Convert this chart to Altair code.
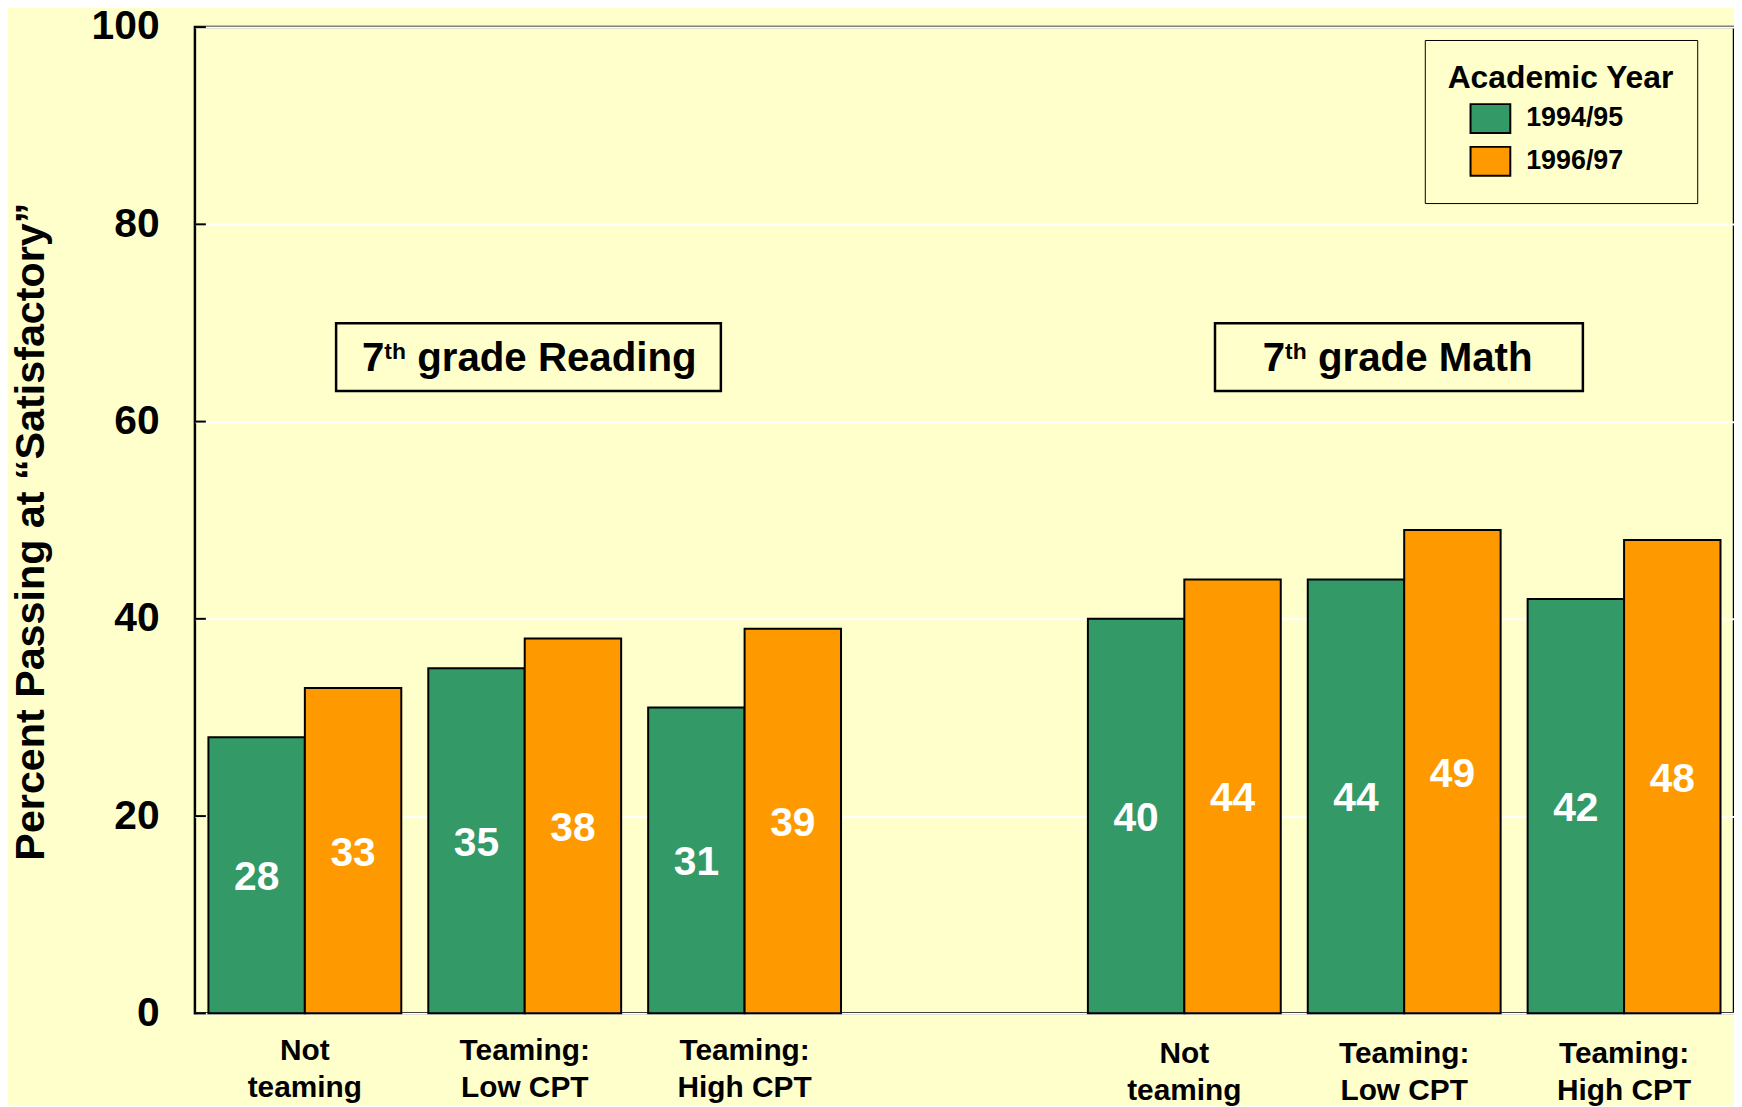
import altair as alt
import pandas as pd

# ---- data ----
subjects = ["Reading", "Math"]
groups = ["Not|teaming", "Teaming:|Low CPT", "Teaming:|High CPT"]
years = ["1994/95", "1996/97"]
reading_9495 = [28, 35, 31]
reading_9697 = [33, 38, 39]
math_9495 = [40, 44, 42]
math_9697 = [44, 49, 48]
y_ticks = [0, 20, 40, 60, 80, 100]
colors = ["#339966", "#FF9900"]
y_title = "Percent Passing at \u201cSatisfactory\u201d"
legend_title = "Academic Year"
panel_titles = ["grade Reading", "grade Math"]

series = {
    ("Reading", "1994/95"): reading_9495,
    ("Reading", "1996/97"): reading_9697,
    ("Math", "1994/95"): math_9495,
    ("Math", "1996/97"): math_9697,
}
rows = []
for (subj, yr), vals in series.items():
    for g, v in zip(groups, vals):
        rows.append({"slot": f"{subj}|{g}", "year": yr, "value": v})
df = pd.DataFrame(rows)

slot_domain = [f"Reading|{g}" for g in groups] + ["gap"] + [f"Math|{g}" for g in groups]

BG = "#FFFFCC"
FONT = "Liberation Sans"

x_enc = alt.X(
    "slot:N",
    scale=alt.Scale(domain=slot_domain, paddingInner=0, paddingOuter=0),
    axis=alt.Axis(
        labelExpr="datum.value == 'gap' ? '' : slice(split(datum.value, '|'), 1)",
        labelFont=FONT, labelFontSize=30, labelFontWeight="bold", labelColor="black",
        labelLineHeight=38,
        labelPadding={
            "condition": {"test": "indexof(datum.value, 'Math') == 0", "value": 25},
            "value": 22,
        },
        labelAngle=0, ticks=False, domain=False, grid=False, labelLimit=400,
    ),
    title=None,
)
xoff_enc = alt.XOffset(
    "year:N", scale=alt.Scale(domain=years, paddingInner=0, paddingOuter=0.14)
)

y_scale = alt.Scale(domain=[0, 100], nice=False)
y_axis = alt.Axis(
    values=y_ticks, labelFont=FONT, labelFontSize=41, labelFontWeight="bold",
    labelColor="black", labelPadding=36, ticks=False, domain=False,
    grid=True, gridColor="white", gridWidth=2,
    titleFont=FONT, titleFontSize=41.5, titleFontWeight="bold", titleColor="black",
    titleX=-152, titleY=507, titleBaseline="alphabetic",
)


def y_enc(field):
    return alt.Y(field, scale=y_scale, axis=y_axis, title=y_title)


base = alt.Chart(df)

bars = base.mark_bar(stroke="black", strokeWidth=2).encode(
    x=x_enc,
    xOffset=xoff_enc,
    y=y_enc("value:Q"),
    color=alt.Color(
        "year:N",
        scale=alt.Scale(domain=years, range=colors),
        legend=alt.Legend(
            title=legend_title, orient="none", legendX=1237, legendY=13,
            direction="vertical", strokeColor="black", fillColor=BG, padding=23,
            titleFont=FONT, titleFontSize=32, titleFontWeight="bold", titleColor="black",
            titlePadding=3, titleLimit=500,
            labelFont=FONT, labelFontSize=27, labelFontWeight="bold", labelColor="black",
            labelOffset=15, labelLimit=300,
            symbolType="M-1,-0.725L1,-0.725L1,0.725L-1,0.725Z", symbolSize=1600,
            symbolStrokeColor="black", symbolStrokeWidth=2, symbolOffset=22,
            symbolOpacity=1, rowPadding=3,
        ),
    ),
)

labels = base.mark_text(
    color="white", font=FONT, fontSize=41, fontWeight="bold",
    baseline="alphabetic", dy=15,
).transform_calculate(mid="datum.value / 2").encode(
    x=x_enc, xOffset=xoff_enc, y=y_enc("mid:Q"), text="value:Q",
)

tick_df = pd.DataFrame({"value": y_ticks})
inner_ticks = alt.Chart(tick_df).mark_rule(color="black", strokeWidth=2).encode(
    y=y_enc("value:Q"), x=alt.value(0), x2=alt.value(11),
)

one = pd.DataFrame({"k": [0]})


def panel(x0, x1, text_x, sup_x, rest_x, rest_text):
    box = alt.Chart(one).mark_rect(fill=BG, stroke="black", strokeWidth=2.5).encode(
        x=alt.value(x0), x2=alt.value(x1), y=alt.value(298), y2=alt.value(366)
    )
    t7 = alt.Chart(one).mark_text(
        align="left", baseline="alphabetic", font=FONT, fontSize=40.5,
        fontWeight="bold", color="black",
    ).encode(x=alt.value(text_x), y=alt.value(346), text=alt.value("7"))
    tth = alt.Chart(one).mark_text(
        align="left", baseline="alphabetic", font=FONT, fontSize=23,
        fontWeight="bold", color="black",
    ).encode(x=alt.value(sup_x), y=alt.value(334), text=alt.value("th"))
    trest = alt.Chart(one).mark_text(
        align="left", baseline="alphabetic", font=FONT, fontSize=40.5,
        fontWeight="bold", color="black",
    ).encode(x=alt.value(rest_x), y=alt.value(346), text=alt.value(rest_text))
    return [box, t7, tth, trest]


ann = panel(142, 529, 168, 190.5, 223.5, panel_titles[0]) + panel(
    1026, 1396, 1074, 1096.5, 1129.5, panel_titles[1]
)

chart = alt.layer(bars, labels, inner_ticks, *ann).properties(
    width=1548, height=992,
    autosize=alt.AutoSizeParams(type="none"),
    padding={"left": 188, "top": 16, "right": 0, "bottom": 90},
).configure(background=BG).configure_view(stroke="black", strokeWidth=2.5, fill=BG)

chart.save("out.html", embed_options={"renderer": "svg", "actions": False})
